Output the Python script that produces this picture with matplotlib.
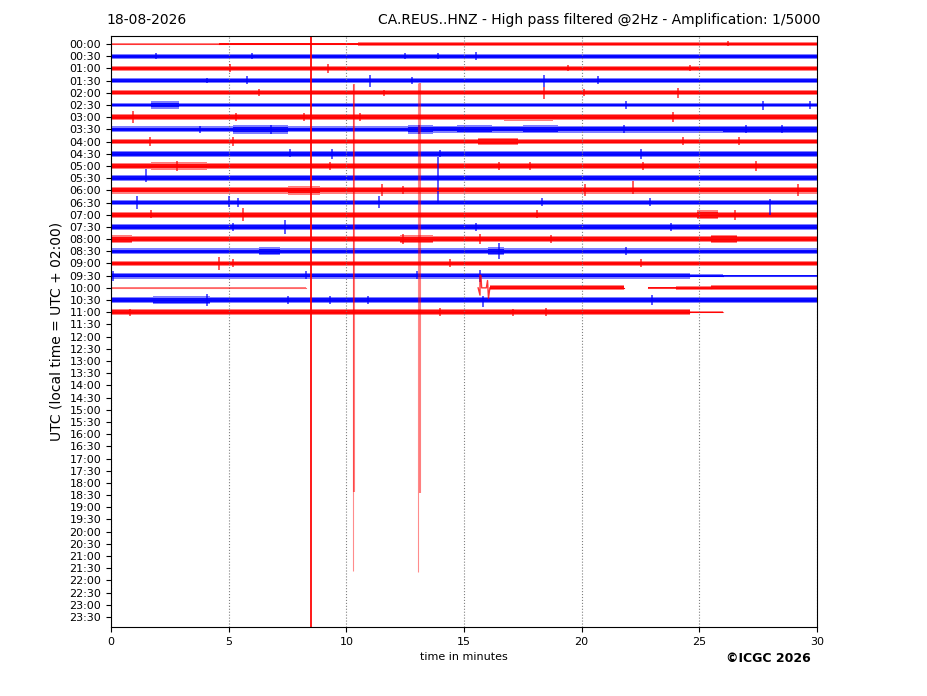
import matplotlib
matplotlib.use('Agg')
import matplotlib.pyplot as plt

# helicorder rows: 30 min each, red / blue alternating
row_labels = ['%02d:%02d' % (h, m) for h in range(24) for m in (0, 30)]

# noise band per row: (start_min, end_min, half_amplitude in row units)
row_segments = [
    [(0, 4.6, 0.05), (4.6, 10.5, 0.08), (10.5, 20, 0.12), (20, 30, 0.15)],
    [(0, 30, 0.17)],
    [(0, 30, 0.17)],
    [(0, 30, 0.17)],
    [(0, 30, 0.18)],
    [(0, 1.7, 0.17), (1.7, 2.9, 0.25), (2.9, 30, 0.17)],
    [(0, 16.7, 0.2), (16.7, 18.8, 0.24), (18.8, 30, 0.2)],
    [(0, 5.2, 0.2), (5.2, 7.5, 0.3), (7.5, 12.6, 0.2), (12.6, 13.7, 0.3), (13.7, 14.7, 0.22),
     (14.7, 16.2, 0.27), (16.2, 17.5, 0.22), (17.5, 19.0, 0.27), (19.0, 26, 0.22), (26, 30, 0.26)],
    [(0, 15.6, 0.2), (15.6, 17.3, 0.25), (17.3, 30, 0.2)],
    [(0, 30, 0.2)],
    [(0, 1.7, 0.2), (1.7, 4.1, 0.26), (4.1, 30, 0.21)],
    [(0, 30, 0.22)],
    [(0, 7.5, 0.24), (7.5, 8.9, 0.32), (8.9, 30, 0.24)],
    [(0, 30, 0.2)],
    [(0, 24.9, 0.21), (24.9, 25.8, 0.32), (25.8, 30, 0.21)],
    [(0, 30, 0.2)],
    [(0, 0.9, 0.28), (0.9, 12.3, 0.22), (12.3, 13.7, 0.28), (13.7, 25.5, 0.22), (25.5, 26.6, 0.3), (26.6, 30, 0.22)],
    [(0, 6.3, 0.2), (6.3, 7.2, 0.27), (7.2, 16.0, 0.2), (16.0, 16.7, 0.27), (16.7, 30, 0.2)],
    [(0, 30, 0.2)],
    [(0, 24.6, 0.2), (24.6, 26, 0.1), (26, 30, 0.06)],
    [(0, 8.3, 0.03), (16.1, 21.8, 0.17), (22.8, 24, 0.05), (24, 25.5, 0.12), (25.5, 30, 0.18)],
    [(0, 1.8, 0.2), (1.8, 4.2, 0.28), (4.2, 30, 0.2)],
    [(0, 24.6, 0.2), (24.6, 26.0, 0.06)],
]

# short bursts per row: (minute, up, down) in row units
row_bursts = [
    [(26.2, 0.25, 0.2)],
    [(1.9, 0.25, 0.2), (6.0, 0.3, 0.25), (12.5, 0.25, 0.2), (13.9, 0.25, 0.2), (15.5, 0.35, 0.3)],
    [(5.05, 0.35, 0.3), (9.2, 0.35, 0.35), (19.4, 0.25, 0.2), (24.6, 0.25, 0.2)],
    [(4.1, 0.25, 0.2), (5.8, 0.35, 0.3), (11.0, 0.5, 0.55), (12.8, 0.3, 0.3), (18.4, 0.5, 0.5), (20.7, 0.35, 0.3)],
    [(6.3, 0.35, 0.3), (11.6, 0.25, 0.25), (18.4, 0.5, 0.5), (20.1, 0.35, 0.3), (24.1, 0.4, 0.4)],
    [(21.9, 0.35, 0.3), (27.7, 0.35, 0.4), (29.7, 0.3, 0.3)],
    [(0.95, 0.5, 0.5), (5.3, 0.35, 0.3), (8.2, 0.35, 0.3), (10.6, 0.35, 0.3), (23.9, 0.4, 0.4)],
    [(3.8, 0.3, 0.3), (6.8, 0.35, 0.35), (13.1, 0.4, 0.35), (21.8, 0.35, 0.3), (27.0, 0.35, 0.3), (28.5, 0.35, 0.3)],
    [(1.66, 0.4, 0.4), (5.2, 0.4, 0.35), (24.3, 0.35, 0.3), (26.7, 0.35, 0.3)],
    [(7.6, 0.35, 0.3), (9.4, 0.4, 0.4), (14.0, 0.3, 0.3), (22.5, 0.4, 0.4)],
    [(2.8, 0.4, 0.4), (9.3, 0.35, 0.3), (16.5, 0.35, 0.3), (17.8, 0.35, 0.3), (22.6, 0.35, 0.3), (27.4, 0.4, 0.4)],
    [(1.5, 0.75, 0.3), (13.9, 1.7, 2.05)],
    [(11.5, 0.55, 0.5), (12.4, 0.35, 0.3), (20.15, 0.55, 0.5), (22.2, 0.8, 0.3), (29.2, 0.55, 0.5)],
    [(1.1, 0.55, 0.55), (5.0, 0.5, 0.4), (5.4, 0.4, 0.4), (11.4, 0.5, 0.45), (18.3, 0.35, 0.3), (22.9, 0.35, 0.3), (28.0, 0.3, 1.0)],
    [(1.7, 0.35, 0.3), (5.6, 0.55, 0.55), (18.1, 0.35, 0.3), (26.5, 0.4, 0.45)],
    [(5.2, 0.3, 0.3), (7.4, 0.55, 0.55), (15.5, 0.35, 0.35), (23.8, 0.3, 0.3)],
    [(12.4, 0.4, 0.4), (15.7, 0.4, 0.4), (18.7, 0.35, 0.3)],
    [(16.5, 0.65, 0.65), (21.9, 0.35, 0.3)],
    [(4.6, 0.5, 0.5), (5.2, 0.35, 0.3), (14.4, 0.35, 0.3), (22.5, 0.35, 0.3)],
    [(0.1, 0.4, 0.4), (8.3, 0.35, 0.3), (13.0, 0.35, 0.3), (15.7, 0.5, 0.5)],
    [],
    [(4.1, 0.5, 0.5), (7.5, 0.35, 0.35), (9.3, 0.3, 0.3), (10.9, 0.35, 0.3), (15.8, 0.3, 0.6), (23.0, 0.4, 0.4)],
    [(0.8, 0.3, 0.3), (14.0, 0.35, 0.3), (17.1, 0.3, 0.3), (18.5, 0.35, 0.3)],
]

# 10:00 row step-like glitch (minute, offset downwards in row units)
glitch_min = [15.6, 15.68, 15.68, 15.72, 15.75, 15.95, 16.0, 16.04, 16.1]
glitch_off = [0, 0.6, -1.05, -1.0, 0, 0, -0.6, 0.85, 0]
glitch_row = 20

# long clipped spikes: (minute, top_row, bottom_row, linewidth, alpha)
spikes = [
    (8.48, -0.7, 47.9, 1.4, 0.9),
    (10.30, 3.3, 43.2, 0.8, 0.45),
    (10.33, 3.3, 36.75, 1.5, 0.5),
    (13.06, 3.2, 43.3, 0.8, 0.45),
    (13.13, 3.2, 36.8, 1.5, 0.5),
]

GAIN = 1.2  # display scaling of the noise band

fig = plt.figure(figsize=(9.27, 6.96), dpi=100)
ax = fig.add_axes([111 / 927, 1 - 627 / 696, 706 / 927, 591 / 696])

for i, segs in enumerate(row_segments):
    c = 'red' if i % 2 == 0 else 'blue'
    for s, e, a in segs:
        a = a * GAIN
        # soft outer fringe + saturated core
        ax.fill_between([s, e], i - a, i + a, color=c, lw=0, alpha=0.5)
        ax.fill_between([s, e], i - 0.6 * a, i + 0.6 * a, color=c, lw=0, alpha=0.9)
        ax.plot([s, e], [i, i], color=c, lw=0.8, alpha=0.6 if a < 0.1 else 1.0)
    for m, up, dn in row_bursts[i]:
        ax.vlines(m, i - up, i + dn, color=c, lw=1.3, alpha=0.7)

ax.plot(glitch_min, [glitch_row + o for o in glitch_off], color='red', lw=1.0, alpha=0.8)

for m, t, b, lw, al in spikes:
    ax.vlines(m, t, b, color='red', lw=lw, alpha=al)

ax.set_xlim(0, 30)
ax.set_ylim(47.82, -0.66)
ax.set_xticks([0, 5, 10, 15, 20, 25, 30])
ax.set_yticks(range(len(row_labels)))
ax.set_yticklabels(row_labels)
ax.tick_params(labelsize=8)
ax.grid(axis='x', linestyle=':', color='gray', lw=0.8)

ax.set_xlabel('time in minutes', fontsize=8)
ax.set_ylabel('UTC (local time = UTC + 02:00)', fontsize=10)

fig.text(106 / 927, 1 - 20 / 696, '18-08-2026', ha='left', va='center', fontsize=10)
fig.text(821 / 927, 1 - 20 / 696, 'CA.REUS..HNZ - High pass filtered @2Hz - Amplification: 1/5000',
         ha='right', va='center', fontsize=10)
fig.text(811 / 927, 1 - 659 / 696, '\u00a9ICGC 2026', ha='right', va='center',
         fontsize=9, fontweight='bold')

fig.savefig('out.png', dpi=100)
